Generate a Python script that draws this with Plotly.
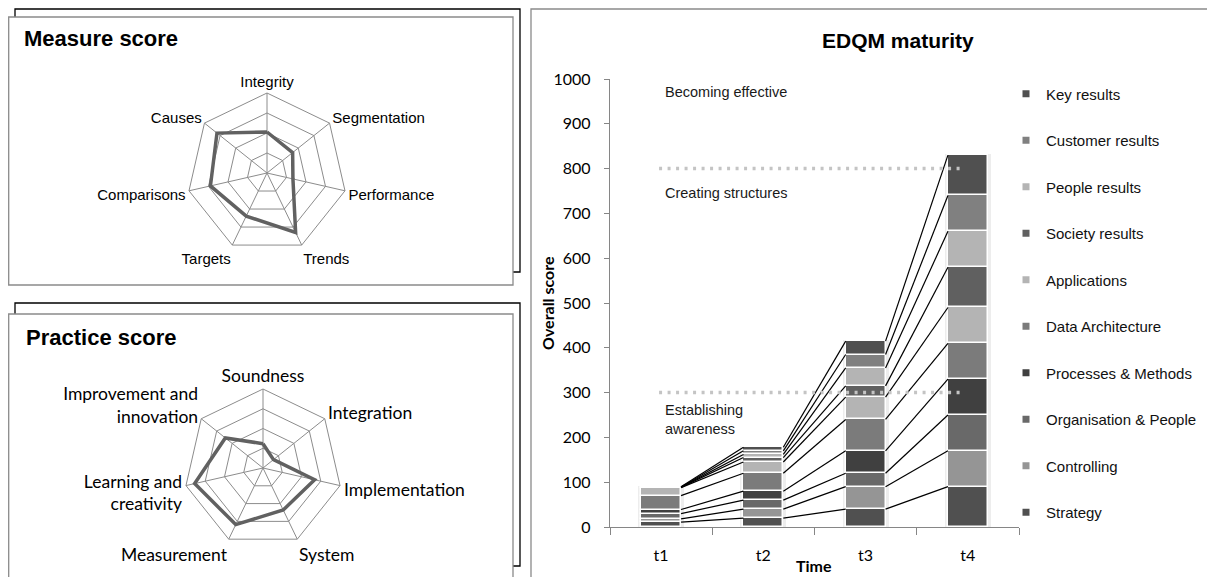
import plotly.graph_objects as go
import numpy as np

W, H = 1215, 577
OFF = 8  # page body margin of the browser

# ---------------- data ----------------
times = ["t1", "t2", "t3", "t4"]
series = ["Strategy", "Controlling", "Organisation & People", "Processes & Methods",
          "Data Architecture", "Applications", "Society results", "People results",
          "Customer results", "Key results"]
strategy = [11, 20, 40, 90]
controlling = [7, 20, 50, 80]
organisation = [12, 20, 30, 80]
processes = [9, 20, 50, 80]
data_arch = [31, 40, 70, 80]
applications = [18, 25, 50, 80]
society = [0.5, 10, 25, 90]
people = [0.5, 7, 40, 80]
customer = [0.5, 8, 30, 80]
key_results = [0.5, 8, 30, 90]
values = [strategy, controlling, organisation, processes, data_arch,
          applications, society, people, customer, key_results]
colors = ["#505050", "#959595", "#696969", "#404040", "#7b7b7b",
          "#b4b4b4", "#606060", "#b4b4b4", "#808080", "#505050"]

thresholds = [300, 800]
stage_labels = ["Establishing<br>awareness", "Creating structures", "Becoming effective"]
stage_label_y = [241, 746, 971]

measure_axes = ["Integrity", "Segmentation", "Performance", "Trends", "Targets",
                "Comparisons", "Causes"]
measure_vals = [2.05, 1.64, 1.33, 3.3, 2.39, 2.9, 3.2]

practice_axes = ["Soundness", "Integration", "Implementation", "System", "Measurement",
                 "Learning and<br>creativity", "Improvement and<br>innovation"]
practice_vals = [1.23, 0.68, 2.68, 2.36, 3.18, 3.55, 2.44]


def px(v):
    return (v - OFF) / W


def py(v):
    return 1 - (v - OFF) / H


fig = go.Figure()

xpos = np.arange(len(times))
bar_w = 0.39
hw = bar_w / 2

# subtle glow behind bars
totals = np.sum(np.array(values, dtype=float), axis=0)
fig.add_trace(go.Bar(x=xpos, y=totals + 4, width=bar_w + 0.06, base=-2,
                     marker=dict(color="rgba(0,0,0,0.07)", line=dict(width=0)),
                     showlegend=False, hoverinfo="skip"))

cum = np.cumsum(np.array(values, dtype=float), axis=0)
for k, name in enumerate(series):
    base = cum[k] - np.array(values[k], dtype=float)
    fig.add_trace(go.Bar(x=xpos, y=values[k], base=base, width=bar_w, name=name,
                         marker=dict(color=colors[k], line=dict(color="white", width=1.5)),
                         showlegend=False))

# series lines
lx, ly = [], []
for k in range(len(series)):
    for i in range(len(times) - 1):
        lx += [xpos[i] + hw, xpos[i + 1] - hw, None]
        ly += [cum[k][i], cum[k][i + 1], None]
fig.add_trace(go.Scatter(x=lx, y=ly, mode="lines", line=dict(color="black", width=1.2),
                         showlegend=False, hoverinfo="skip"))

# legend entries (top of stack listed first)
for k in range(len(series) - 1, -1, -1):
    name = series[k]
    fig.add_trace(go.Scatter(x=[None], y=[None], mode="markers", name=name,
                             legendgroup=name,
                             marker=dict(symbol="square", size=7, color=colors[k])))

# radar charts
fig.add_trace(go.Scatterpolar(r=measure_vals + measure_vals[:1],
                              theta=measure_axes + measure_axes[:1],
                              mode="lines", line=dict(color="#616161", width=3.5),
                              showlegend=False, subplot="polar"))
fig.add_trace(go.Scatterpolar(r=practice_vals + practice_vals[:1],
                              theta=practice_axes + practice_axes[:1],
                              mode="lines", line=dict(color="#616161", width=3.5),
                              showlegend=False, subplot="polar2"))

grid_c = "#8c8c8c"


def polar_cfg(dom_x, dom_y, font):
    return dict(
        domain=dict(x=dom_x, y=dom_y),
        gridshape="linear",
        bgcolor="white",
        radialaxis=dict(range=[0, 4], tickvals=[1, 2, 3, 4], showticklabels=False,
                        ticks="", showline=False, gridcolor=grid_c, gridwidth=1),
        angularaxis=dict(direction="clockwise", rotation=90, showline=True,
                         linecolor=grid_c, linewidth=1, gridcolor=grid_c, ticks="",
                         tickfont=font),
    )


m_cx, m_cy, m_r = 267, 173, 80
p_cx, p_cy, p_r = 263, 468, 79

shapes = []
# panel frames
shapes.append(dict(type="rect", xref="paper", yref="paper", x0=px(15), x1=px(520),
                   y0=py(272), y1=py(9), line=dict(color="black", width=1.3),
                   fillcolor="white", layer="below"))
shapes.append(dict(type="rect", xref="paper", yref="paper", x0=px(8.7), x1=px(513),
                   y0=py(285), y1=py(17), line=dict(color="#8a8a8a", width=1.3),
                   fillcolor="white", layer="below"))
shapes.append(dict(type="rect", xref="paper", yref="paper", x0=px(15), x1=px(520),
                   y0=py(566), y1=py(303), line=dict(color="black", width=1.3),
                   fillcolor="white", layer="below"))
shapes.append(dict(type="rect", xref="paper", yref="paper", x0=px(8.7), x1=px(513),
                   y0=py(600), y1=py(314), line=dict(color="#8a8a8a", width=1.3),
                   fillcolor="white", layer="below"))
shapes.append(dict(type="rect", xref="paper", yref="paper", x0=px(531), x1=px(1240),
                   y0=py(600), y1=py(9), line=dict(color="#8a8a8a", width=1.3),
                   fillcolor="rgba(0,0,0,0)", layer="below"))
# threshold dotted lines
for t in thresholds:
    shapes.append(dict(type="line", xref="x", yref="y", x0=-0.02, x1=2.96, y0=t, y1=t,
                       line=dict(color="#c4c4c4", width=3.5, dash="3px,5.5px"),
                       layer="above"))

annotations = [
    dict(text="<b>Measure score</b>", xref="paper", yref="paper", x=px(22), y=py(38),
         xanchor="left", yanchor="middle", showarrow=False,
         font=dict(family="Liberation Sans, Arial", size=22, color="black")),
    dict(text="<b>Practice score</b>", xref="paper", yref="paper", x=px(24), y=py(338),
         xanchor="left", yanchor="middle", showarrow=False,
         font=dict(family="Liberation Sans, Arial", size=22, color="black")),
    dict(text="<b>EDQM maturity</b>", xref="paper", yref="paper", x=px(898), y=py(41),
         xanchor="center", yanchor="middle", showarrow=False,
         font=dict(family="Liberation Sans, Arial", size=21, color="black")),
    dict(text="<b>Overall score</b>", xref="paper", yref="paper", x=px(547), y=py(303),
         xanchor="center", yanchor="middle", textangle=-90, showarrow=False,
         font=dict(family="Lato", size=16, color="black")),
    dict(text="<b>Time</b>", xref="paper", yref="paper", x=px(814), y=py(565),
         xanchor="center", yanchor="middle", showarrow=False,
         font=dict(family="Lato", size=16, color="black")),
]
for lab, yv in zip(stage_labels, stage_label_y):
    annotations.append(dict(text=lab, xref="x", yref="y", x=0.02, y=yv, xanchor="left",
                            yanchor="middle", align="left", showarrow=False,
                            font=dict(family="Liberation Sans, Arial", size=14.5,
                                      color="#1a1a1a")))

axis_c = "#868686"
fig.update_layout(
    template="none",
    width=W, height=H, autosize=False,
    margin=dict(l=0, r=0, t=0, b=0, pad=0, autoexpand=False),
    paper_bgcolor="white", plot_bgcolor="white",
    barmode="overlay",
    bargap=0,
    showlegend=True,
    legend=dict(x=px(1006), y=py(303), xanchor="left", yanchor="middle",
                traceorder="grouped", tracegroupgap=24, itemsizing="trace",
                font=dict(family="Liberation Sans, Arial", size=15, color="#111111"),
                bgcolor="rgba(0,0,0,0)", borderwidth=0),
    xaxis=dict(domain=[px(610), px(1019)], range=[-0.5, 3.5], tickvals=list(xpos),
               ticktext=times, ticks="", showline=True, linecolor=axis_c, linewidth=1.3,
               showgrid=False, zeroline=False, ticklabelstandoff=14, automargin=False,
               tickfont=dict(family="Lato", size=16, color="black"),
               minor=dict(tickvals=[-0.5, 0.5, 1.5, 2.5, 3.5], ticks="outside",
                          ticklen=7, tickcolor=axis_c, tickwidth=1.3, showgrid=False)),
    yaxis=dict(domain=[py(527), py(79)], range=[0, 1000], dtick=100, ticks="outside",
               ticklen=5, tickcolor=axis_c, tickwidth=1.3, showline=True,
               linecolor=axis_c, linewidth=1.3, showgrid=False, zeroline=False,
               ticklabelstandoff=10, automargin=False,
               tickfont=dict(family="Lato", size=16, color="black")),
    polar=polar_cfg([px(m_cx - m_r), px(m_cx + m_r)], [py(m_cy + m_r), py(m_cy - m_r)],
                    dict(family="Liberation Sans, Arial", size=15, color="black")),
    polar2=polar_cfg([px(p_cx - p_r), px(p_cx + p_r)], [py(p_cy + p_r), py(p_cy - p_r)],
                     dict(family="Lato", size=17.5, color="black")),
    shapes=shapes,
    annotations=annotations,
)

fig.write_html("out.html")
